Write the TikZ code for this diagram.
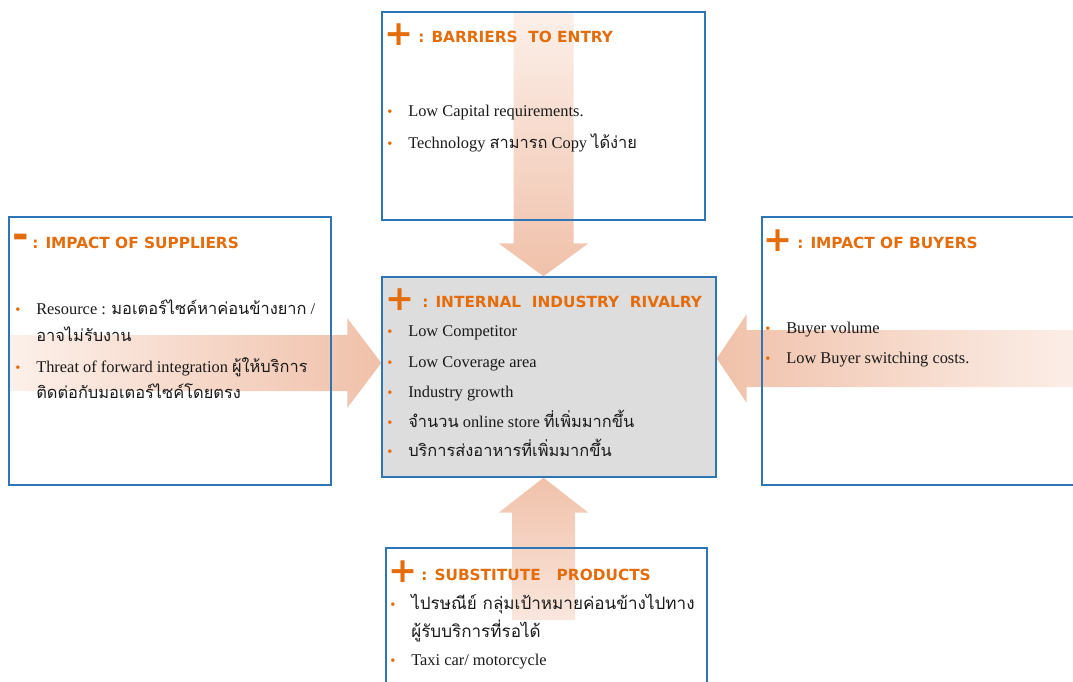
\documentclass[tikz,border=0pt]{standalone}
\usepackage{fontspec}
\usepackage{tikz}
\usetikzlibrary{calc, fit, backgrounds}
\setmainfont{Liberation Serif}
\newfontfamily\headfont{DejaVu Sans}
\newfontfamily\thaifont[Script=Thai]{Loma}
\definecolor{boxblue}{RGB}{46,117,182}
\definecolor{headorange}{RGB}{228,108,10}
\definecolor{panelgray}{RGB}{221,221,221}
\definecolor{arrowpeach}{RGB}{240,193,170}
\definecolor{arrowpale}{RGB}{252,240,234}
\definecolor{textdark}{RGB}{25,25,25}
\newcommand{\thtxt}[1]{{\thaifont #1}}
\newcommand{\bul}{\makebox[15.75pt][l]{\color{headorange}\fontsize{11}{11}\selectfont\textbullet}}

\begin{document}
\begin{tikzpicture}[x=0.75pt, y=-0.75pt,
    panel/.style={draw=boxblue, line width=1.1pt, inner sep=0pt},
    sign/.style={text=headorange, font=\headfont\bfseries\fontsize{26}{26}\selectfont, inner sep=0pt},
    heading/.style={anchor=base west, text=headorange, font=\headfont\bfseries\fontsize{11.5}{14}\selectfont, inner sep=0pt},
    item/.style={anchor=base west, text=textdark, font=\fontsize{12.3}{14}\selectfont, inner sep=0pt},
    bigthai/.style={item, font=\fontsize{12.8}{16}\selectfont}]
        \useasboundingbox (0,0) rectangle (1073,681);
        \clip (0,0) rectangle (1073,681);

        % the five forces
        \node[panel, fit={(382,12) (705,220)}] (barriers) {};
        \node[panel, fit={(9,217) (331,485)}] (suppliers) {};
        \node[panel, fit={(762,217) (1090,485)}] (buyers) {};
        \node[panel, fill=panelgray, fit={(382,277) (716,477)}] (rivalry) {};
        \node[panel, fit={(386,548) (707,700)}] (substitutes) {};

        \coordinate (tipL) at (rivalry.west |- 0,363);
        \coordinate (tipR) at (rivalry.east |- 0,358.5);
        \coordinate (tipT) at (barriers.north |- rivalry.north);
        \coordinate (tipB) at (543.5,0 |- rivalry.south);
        \coordinate (tailB) at (543.5,620);

        % big shaded arrows
        \begin{scope}[on background layer]
                \shade[top color=arrowpale, bottom color=arrowpeach]
                        ($(barriers.north)+(-30,0)$) -- ($(tipT)+(-30,-33)$) -- ($(tipT)+(-45,-33)$) -- (tipT)
                        -- ($(tipT)+(45,-33)$) -- ($(tipT)+(30,-33)$) -- ($(barriers.north)+(30,0)$) -- cycle;
                \shade[left color=arrowpale, right color=arrowpeach]
                        ($(suppliers.west |- tipL)+(0,-28)$) -- ($(tipL)+(-34,-28)$) -- ($(tipL)+(-34,-45)$) -- (tipL)
                        -- ($(tipL)+(-34,45)$) -- ($(tipL)+(-34,28)$) -- ($(suppliers.west |- tipL)+(0,28)$) -- cycle;
                \shade[left color=arrowpeach, right color=arrowpale]
                        ($(buyers.east |- tipR)+(0,-28.5)$) -- ($(tipR)+(30,-28.5)$) -- ($(tipR)+(30,-44.5)$) -- (tipR)
                        -- ($(tipR)+(30,44.5)$) -- ($(tipR)+(30,28.5)$) -- ($(buyers.east |- tipR)+(0,28.5)$) -- cycle;
                \shade[top color=arrowpeach, bottom color=arrowpale!80!arrowpeach]
                        ($(tailB)+(-31.5,0)$) -- ($(tipB)+(-31.5,35)$) -- ($(tipB)+(-45,35)$) -- (tipB)
                        -- ($(tipB)+(45,35)$) -- ($(tipB)+(31.5,35)$) -- ($(tailB)+(31.5,0)$) -- cycle;
        \end{scope}

        % barriers to entry
        \node[sign] (barriers-sign) at (399,35) {+};
        \node[heading] (barriers-head) at (418,43) {: BARRIERS\ \ TO ENTRY};
        \node[item] (barriers-1) at (387,117) {\bul Low Capital requirements.};
        \node[item] (barriers-2) at (387,148) {\bul Technology \thtxt{สามารถ} Copy \thtxt{ได้ง่าย}};

        % suppliers
        \node[sign, font=\headfont\bfseries\fontsize{30}{30}\selectfont] (suppliers-sign) at (21,241) {-};
        \node[heading] (suppliers-head) at (32,248) {: IMPACT OF SUPPLIERS};
        \node[item] (suppliers-1) at (15,314) {\bul Resource : \thtxt{มอเตอร์ไซค์หาค่อนข้างยาก} /};
        \node[item] (suppliers-1b) at (36,341) {\thtxt{อาจไม่รับงาน}};
        \node[item] (suppliers-2) at (15,372) {\bul Threat of forward integration \thtxt{ผู้ให้บริการ}};
        \node[item] (suppliers-2b) at (36,398) {\thtxt{ติดต่อกับมอเตอร์ไซค์โดยตรง}};

        % buyers
        \node[sign] (buyers-sign) at (778,241) {+};
        \node[heading] (buyers-head) at (797,248) {: IMPACT OF BUYERS};
        \node[item] (buyers-1) at (765,333) {\bul Buyer volume};
        \node[item] (buyers-2) at (765,363) {\bul Low Buyer switching costs.};

        % rivalry
        \node[sign] (rivalry-sign) at (400,300) {+};
        \node[heading] (rivalry-head) at (422,307) {: INTERNAL\ \ INDUSTRY\ \ RIVALRY};
        \node[item] (rivalry-1) at (387,336) {\bul Low Competitor};
        \node[item] (rivalry-2) at (387,367) {\bul Low Coverage area};
        \node[item] (rivalry-3) at (387,397) {\bul Industry growth};
        \node[item] (rivalry-4) at (387,427) {\bul \thtxt{จำนวน} online store \thtxt{ที่เพิ่มมากขึ้น}};
        \node[item] (rivalry-5) at (387,456) {\bul \thtxt{บริการส่งอาหารที่เพิ่มมากขึ้น}};

        % substitutes
        \node[sign] (substitutes-sign) at (403,572) {+};
        \node[heading] (substitutes-head) at (421,580) {: SUBSTITUTE\ \ \ PRODUCTS};
        \node[bigthai] (substitutes-1) at (390,609) {\bul \thtxt{ไปรษณีย์ กลุ่มเป้าหมายค่อนข้างไปทาง}};
        \node[bigthai] (substitutes-1b) at (411,637) {\thtxt{ผู้รับบริการที่รอได้}};
        \node[item] (substitutes-2) at (390,665) {\bul Taxi car/ motorcycle};
\end{tikzpicture}
\end{document}
